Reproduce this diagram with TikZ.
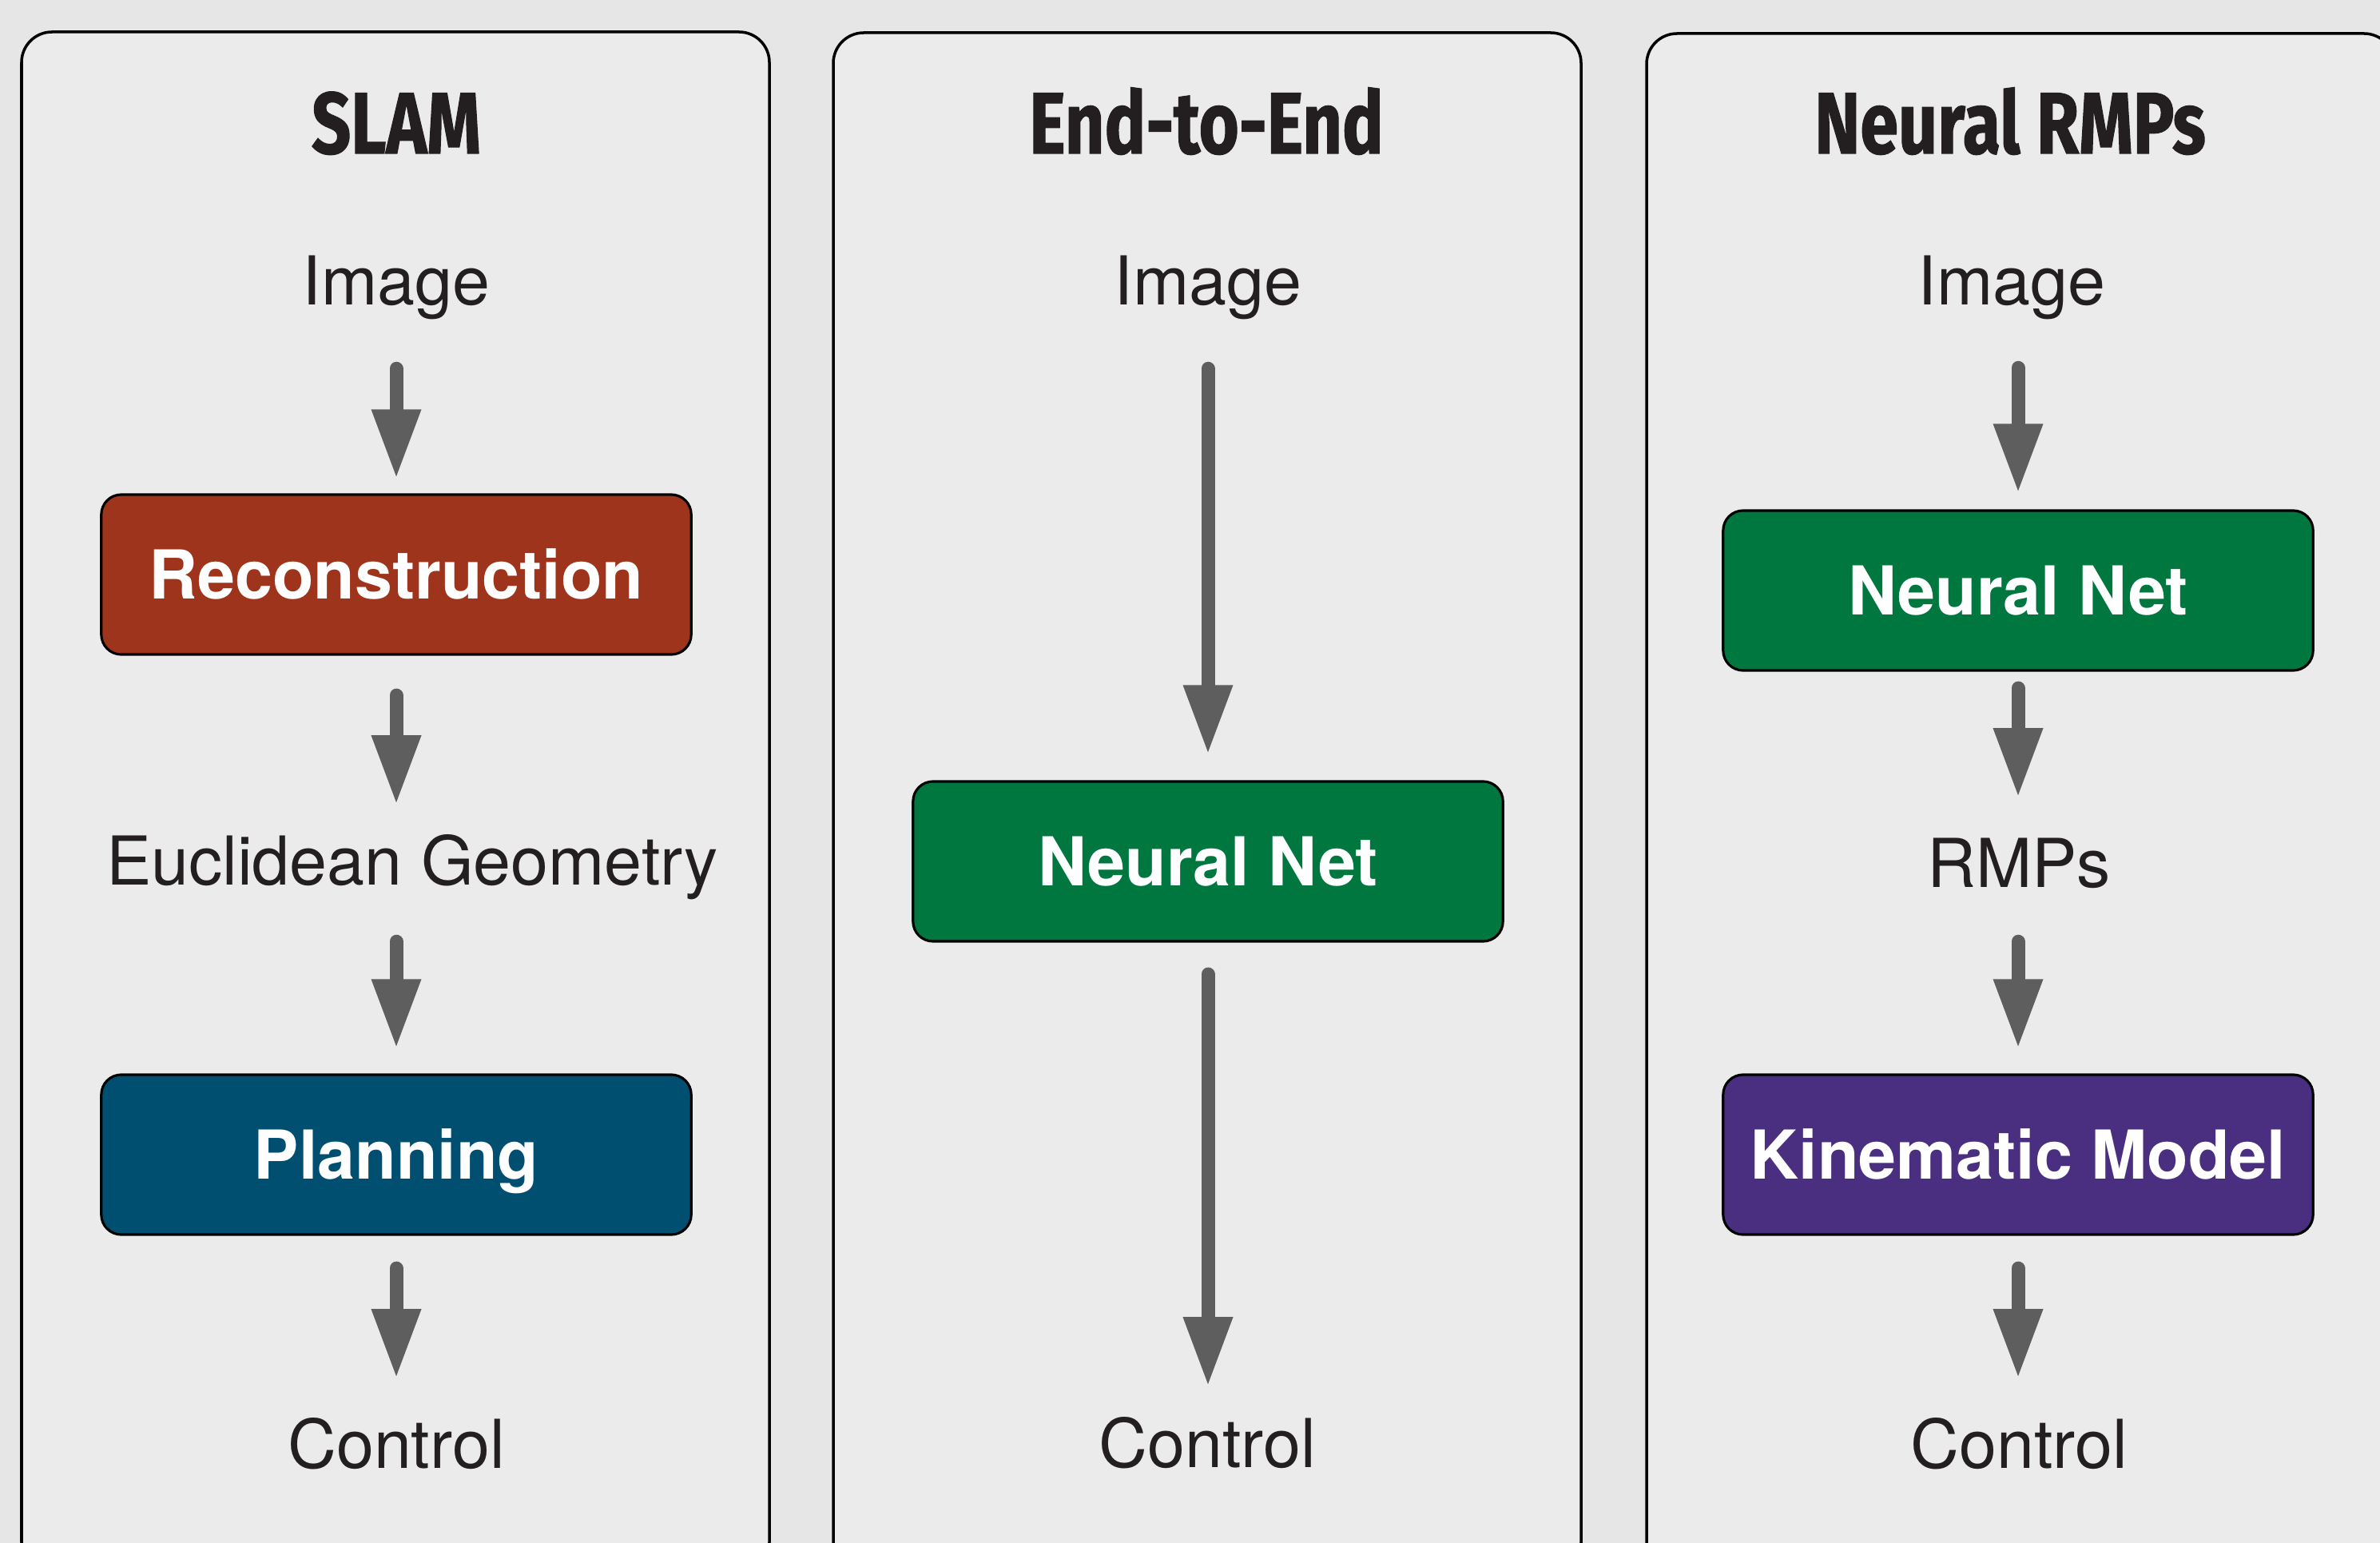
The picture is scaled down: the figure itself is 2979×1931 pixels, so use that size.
\documentclass[tikz,border=0pt]{standalone}
\usepackage{fontspec}
\setmainfont{TeX Gyre Heros}
\newfontfamily\headfont[FakeStretch=0.79,FakeBold=1]{Fira Sans}
\usepackage{xcolor}
\usepackage{tikz}
\usetikzlibrary{arrows.meta,positioning,calc}

\definecolor{pagegray}{HTML}{E6E6E6}
\definecolor{panelgray}{HTML}{EBEBEB}
\definecolor{ink}{HTML}{231F20}
\definecolor{arrowgray}{HTML}{5E5E5E}
\definecolor{reconred}{HTML}{9E341C}
\definecolor{planblue}{HTML}{004F71}
\definecolor{netgreen}{HTML}{00773F}
\definecolor{kinpurple}{HTML}{4A2F80}

\begin{document}
\begin{tikzpicture}[
			x=0.01cm, y=-0.01cm,
			panel/.style={
				draw=black,
				line width=1pt,
				fill=panelgray,
				rounded corners=3.8mm
			},
			heading/.style={
				anchor=base,
				inner sep=0pt,
				text=ink,
				font=\headfont\bfseries\fontsize{31}{36}\selectfont
			},
			stage/.style={
				anchor=base,
				inner sep=0pt,
				text height=6.1mm,
				text depth=1.6mm,
				text=ink,
				font=\fontsize{24}{28}\selectfont
			},
			block/.style={
				draw=black,
				line width=0.9pt,
				rounded corners=2.5mm,
				minimum width=7.38cm,
				minimum height=2cm,
				text height=6.1mm,
				text depth=0pt,
				inner sep=0pt,
				text=white,
				font=\bfseries\fontsize{24}{28}\selectfont
			},
			flow/.style={
				draw=arrowgray,
				line width=1.7mm,
				line cap=round,
				-{Triangle[length=8.4mm,width=6.3mm,line width=0pt]}
			}
			]
			
			\useasboundingbox (0,0) rectangle (2979,1931);
			
			%=====================================================================
			% Page and panels
			%=====================================================================
			
			\begin{scope}
				\clip (0,0) rectangle (2979,1931);
				\fill[pagegray] (0,0) rectangle (2979,1931);
				\draw[panel] (27,40) rectangle (963,1968);
				\draw[panel] (1043,41) rectangle (1979,1968);
				\draw[panel] (2061,42) rectangle (2997,1968);
			\end{scope}
			
			%=====================================================================
			% SLAM
			%=====================================================================
			
			\node[heading] (slam) at (496,192) {SLAM};
			
			\node[stage] (img1) at (496,382) {Image};
			
			\node[block, fill=reconred] (rec1) at (496,719)
			{Reconstruction};
			
			\node[stage] (euc1) at (516,1107) {Euclidean Geometry};
			
			\node[block, fill=planblue] (plan1) at (496,1445)
			{Planning};
			
			\node[stage] (ctl1) at (496,1837) {Control};
			
			\draw[flow, shorten <=6.25mm, shorten >=2.1mm]
			(img1.south) -- (rec1.north);
			\draw[flow, shorten <=4.95mm, shorten >=4.1mm]
			(rec1.south) -- (rec1.south |- euc1.north);
			\draw[flow, shorten <=5.45mm, shorten >=3.4mm]
			(euc1.south -| plan1.north) -- (plan1.north);
			\draw[flow, shorten <=4.05mm, shorten >=5.3mm]
			(plan1.south) -- (ctl1.north);
			
			%=====================================================================
			% End-to-End
			%=====================================================================
			
			\node[heading] (e2e) at (1510,192) {End-to-End};
			
			\node[stage] (img2) at (1512,382) {Image};
			
			\node[block, fill=netgreen] (net2) at (1512,1078)
			{Neural Net};
			
			\node[stage] (ctl2) at (1511,1836) {Control};
			
			\draw[flow, shorten <=6.25mm, shorten >=3.5mm]
			(img2.south) -- (net2.north);
			\draw[flow, shorten <=3.95mm, shorten >=4.2mm]
			(net2.south) -- (net2.south |- ctl2.north);
			
			%=====================================================================
			% Neural RMPs
			%=====================================================================
			
			\node[heading] (rmps) at (2516,192) {Neural RMPs};
			
			\node[stage] (img3) at (2518,382) {Image};
			
			\node[block, fill=netgreen] (net3) at (2526,739)
			{Neural Net};
			
			\node[stage] (rmp3) at (2527,1110) {RMPs};
			
			\node[block, fill=kinpurple] (kin3) at (2526,1445)
			{Kinematic Model};
			
			\node[stage] (ctl3) at (2527,1837) {Control};
			
			\draw[flow, shorten <=6.15mm, shorten >=2.3mm]
			(img3.south -| net3.north) -- (net3.north);
			\draw[flow, shorten <=2.05mm, shorten >=5.3mm]
			(net3.south) -- (net3.south |- rmp3.north);
			\draw[flow, shorten <=5.15mm, shorten >=3.4mm]
			(rmp3.south -| kin3.north) -- (kin3.north);
			\draw[flow, shorten <=4.05mm, shorten >=5.3mm]
			(kin3.south) -- (kin3.south |- ctl3.north);
			
		\end{tikzpicture}
\end{document}
